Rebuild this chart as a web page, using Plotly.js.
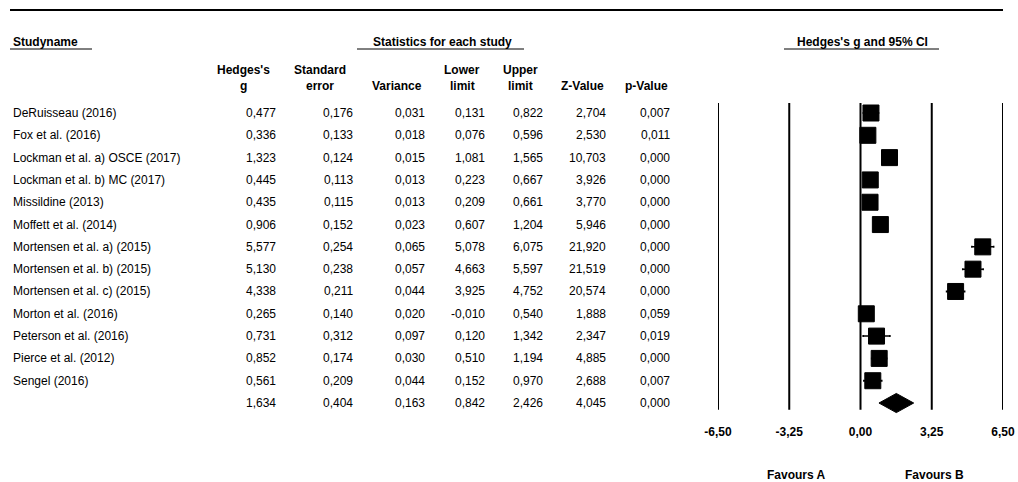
<!DOCTYPE html>
<html><head><meta charset="utf-8">
<script src="https://cdn.plot.ly/plotly-3.0.1.min.js"></script>
<style>body{margin:0;background:#fff}#chart{width:1018px;height:482px}</style>
</head><body><div id="chart"></div>
<script>
const studies = ["DeRuisseau (2016)","Fox et al. (2016)","Lockman et al. a) OSCE (2017)","Lockman et al. b) MC (2017)","Missildine (2013)","Moffett et al. (2014)","Mortensen et al. a) (2015)","Mortensen et al. b) (2015)","Mortensen et al. c) (2015)","Morton et al. (2016)","Peterson et al. (2016)","Pierce et al. (2012)","Sengel (2016)"];
const hedgesG   = [0.477,0.336,1.323,0.445,0.435,0.906,5.577,5.130,4.338,0.265,0.731,0.852,0.561];
const stdErr    = [0.176,0.133,0.124,0.113,0.115,0.152,0.254,0.238,0.211,0.140,0.312,0.174,0.209];
const variance  = [0.031,0.018,0.015,0.013,0.013,0.023,0.065,0.057,0.044,0.020,0.097,0.030,0.044];
const lowerLim  = [0.131,0.076,1.081,0.223,0.209,0.607,5.078,4.663,3.925,-0.010,0.120,0.510,0.152];
const upperLim  = [0.822,0.596,1.565,0.667,0.661,1.204,6.075,5.597,4.752,0.540,1.342,1.194,0.970];
const zValue    = [2.704,2.530,10.703,3.926,3.770,5.946,21.920,21.519,20.574,1.888,2.347,4.885,2.688];
const pValue    = [0.007,0.011,0.000,0.000,0.000,0.000,0.000,0.000,0.000,0.059,0.019,0.000,0.007];
// summary row: g, se, variance, lower, upper, z, p
const summaryStats = [1.634,0.404,0.163,0.842,2.426,4.045,0.000];
const axisTicks = [-6.5,-3.25,0,3.25,6.5];
const favourLabels = ["Favours A","Favours B"];

const W = 1018, H = 482;
const FONT = "Liberation Sans, Arial, sans-serif";
const fmt = v => v.toFixed(3).replace('.', ',');
const fmt2 = v => v.toFixed(2).replace('.', ',');
const px = x => x / W;
const py = y => 1 - y / H;

const rows = studies.map((s, i) => i);
const sumRow = studies.length;

const traces = [];
// Study squares with CI
traces.push({
  type: 'scatter', mode: 'markers', x: hedgesG, y: rows,
  marker: {symbol: 'square', size: 16, color: '#000', line: {color: '#000', width: 1}},
  error_x: {type: 'data', symmetric: false,
    array: hedgesG.map((g, i) => upperLim[i] - g),
    arrayminus: hedgesG.map((g, i) => g - lowerLim[i]),
    color: '#000', thickness: 1.5, width: 1},
  hoverinfo: 'skip', showlegend: false
});
// Summary diamond
const dh = 0.43;
traces.push({
  type: 'scatter', mode: 'lines', fill: 'toself', fillcolor: '#000',
  x: [summaryStats[3], summaryStats[0], summaryStats[4], summaryStats[0], summaryStats[3]],
  y: [sumRow, sumRow - dh, sumRow, sumRow + dh, sumRow],
  line: {color: '#000', width: 1}, hoverinfo: 'skip', showlegend: false
});

const ann = [];
const base = {showarrow: false, font: {family: FONT, size: 12, color: '#000'}};
const bold = {showarrow: false, font: {family: FONT, size: 12, color: '#000', weight: 'bold'}};

// Headers
ann.push({...bold, text: 'Studyname', xref: 'paper', yref: 'paper', x: px(11), y: py(42), xanchor: 'left', yanchor: 'middle'});
ann.push({...bold, text: 'Statistics for each study', xref: 'paper', yref: 'paper', x: px(442), y: py(42), xanchor: 'center', yanchor: 'middle'});
ann.push({...bold, text: "Hedges's g and 95% CI", xref: 'paper', yref: 'paper', x: px(862), y: py(42), xanchor: 'center', yanchor: 'middle'});

const colHeads = [
  {l1: "Hedges's", l2: 'g', cx: 243},
  {l1: 'Standard', l2: 'error', cx: 320},
  {l1: '', l2: 'Variance', cx: 397},
  {l1: 'Lower', l2: 'limit', cx: 462},
  {l1: 'Upper', l2: 'limit', cx: 520},
  {l1: '', l2: 'Z-Value', cx: 582},
  {l1: '', l2: 'p-Value', cx: 646}
];
colHeads.forEach(c => {
  if (c.l1) ann.push({...bold, text: c.l1, xref: 'paper', yref: 'paper', x: px(c.cx), y: py(70), xanchor: 'center', yanchor: 'middle'});
  ann.push({...bold, text: c.l2, xref: 'paper', yref: 'paper', x: px(c.cx), y: py(86), xanchor: 'center', yanchor: 'middle'});
});

// Table body
const cols = [
  {arr: hedgesG, rx: 278}, {arr: stdErr, rx: 355}, {arr: variance, rx: 427},
  {arr: lowerLim, rx: 487}, {arr: upperLim, rx: 545}, {arr: zValue, rx: 608}, {arr: pValue, rx: 672}
];
studies.forEach((s, i) => {
  ann.push({...base, text: s, xref: 'paper', yref: 'y', x: px(11), y: i, xanchor: 'left', yanchor: 'middle'});
  cols.forEach(c => ann.push({...base, text: fmt(c.arr[i]), xref: 'paper', yref: 'y', x: px(c.rx), y: i, xanchor: 'right', yanchor: 'middle'}));
});
cols.forEach((c, k) => ann.push({...base, text: fmt(summaryStats[k]), xref: 'paper', yref: 'y', x: px(c.rx), y: sumRow, xanchor: 'right', yanchor: 'middle'}));

// Favours labels
ann.push({...bold, text: favourLabels[0], xref: 'x', yref: 'paper', x: (axisTicks[1]+axisTicks[2])/2 - 1.3, y: py(475), xanchor: 'center', yanchor: 'middle'});
ann.push({...bold, text: favourLabels[1], xref: 'x', yref: 'paper', x: (axisTicks[3]+axisTicks[2])/2 + 1.75, y: py(475), xanchor: 'center', yanchor: 'middle'});

const shapes = [];
shapes.push({type: 'line', xref: 'paper', yref: 'paper', x0: px(10), x1: px(1003), y0: py(10), y1: py(10), line: {color: '#000', width: 2}});
shapes.push({type: 'line', xref: 'paper', yref: 'paper', x0: px(10), x1: px(92), y0: py(49), y1: py(49), line: {color: '#000', width: 1}});
shapes.push({type: 'line', xref: 'paper', yref: 'paper', x0: px(357), x1: px(524), y0: py(49), y1: py(49), line: {color: '#000', width: 1}});
shapes.push({type: 'line', xref: 'paper', yref: 'paper', x0: px(784), x1: px(939), y0: py(49), y1: py(49), line: {color: '#000', width: 1}});
axisTicks.forEach(t => shapes.push({type: 'line', xref: 'x', yref: 'y', x0: t, x1: t, y0: -0.45, y1: 13.3, line: {color: '#000', width: 2}, layer: 'below'}));

const rowPx0 = 113, rowStep = 22.31, axisBottomPx = 423;
const layout = {
  width: W, height: H,
  margin: {l: 0, r: 0, t: 0, b: 0},
  paper_bgcolor: '#fff', plot_bgcolor: 'rgba(0,0,0,0)',
  showlegend: false,
  xaxis: {domain: [px(718), px(1003)], range: [axisTicks[0], axisTicks[axisTicks.length-1]],
    tickvals: axisTicks, ticktext: axisTicks.map(fmt2), showgrid: false, zeroline: false,
    showline: false, ticks: '', tickfont: {family: FONT, size: 12, color: '#000', weight: 'bold'}, fixedrange: true},
  yaxis: {domain: [1 - axisBottomPx / H, 1], range: [(axisBottomPx - rowPx0) / rowStep, -rowPx0 / rowStep],
    showgrid: false, zeroline: false, showline: false, showticklabels: false, ticks: '', fixedrange: true},
  annotations: ann, shapes: shapes
};
Plotly.newPlot('chart', traces, layout, {displayModeBar: false, staticPlot: true});
</script>
</body></html>
